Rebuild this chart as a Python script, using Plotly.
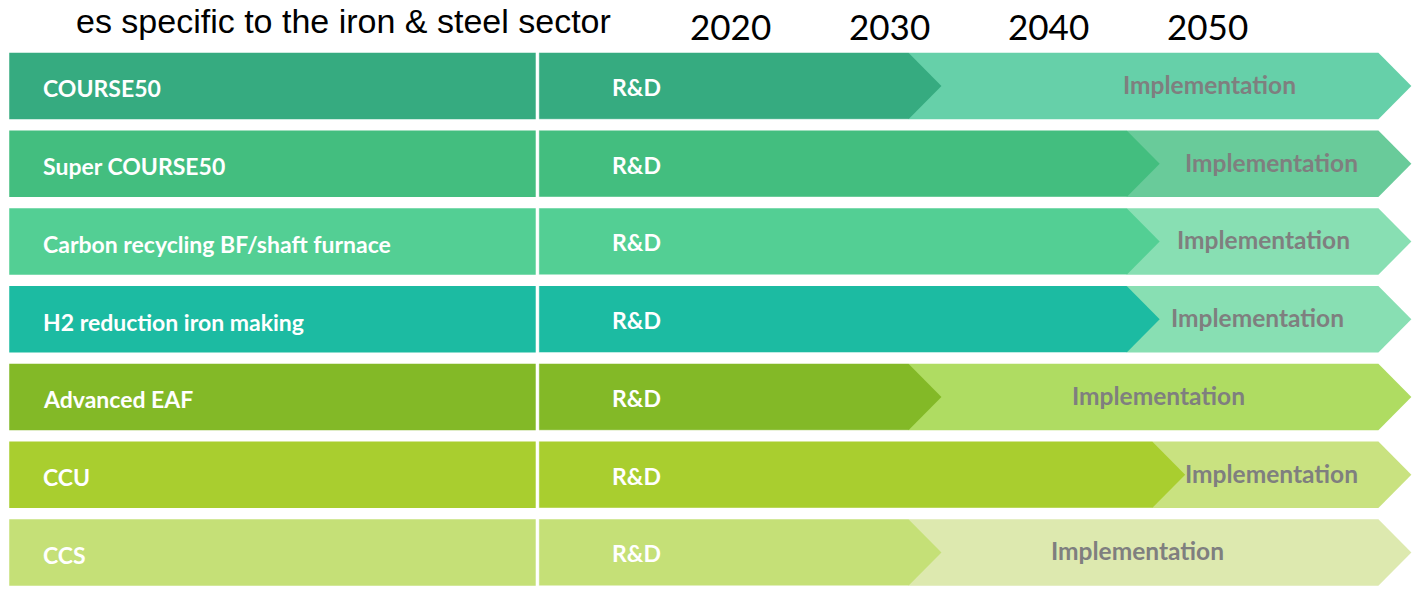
import plotly.graph_objects as go

# ---- data ----
technologies = [
    "COURSE50",
    "Super COURSE50",
    "Carbon recycling BF/shaft furnace",
    "H2 reduction iron making",
    "Advanced EAF",
    "CCU",
    "CCS",
]
rd_start = 2008.0
rd_end = [2031.2, 2044.9, 2044.9, 2044.9, 2031.2, 2046.5, 2031.2]
impl_end = [2060.7, 2060.7, 2060.7, 2060.7, 2060.7, 2060.7, 2060.7]
impl_label_x = [2050.1, 2054.0, 2053.5, 2053.1, 2046.9, 2054.0, 2045.6]
year_ticks = [2020, 2030, 2040, 2050]
year_labels = ["2020", "2030", "2040", "2050"]
phase_names = ["R&D", "Implementation"]
title_text = "es specific to the iron & steel sector"

main_colors = ["#36AB80", "#43BE7F", "#53CF94", "#1CBBA2", "#83B927", "#A9CE2F", "#C5E077"]
impl_colors = ["#66D0A9", "#69CB9A", "#88DFB3", "#88DFB3", "#AFDC62", "#C9E280", "#DDE9AF"]

# ---- layout constants ----
W, H = 1416, 589
X_MIN, X_MAX = 1974.17, 2063.06
LABEL_BOX = (1974.75, 2007.8)
LABEL_TEXT_X = 1976.74
RD_TEXT_X = 2012.45
TIP = 2.07          # arrow-tip depth in years
HALF = 0.428        # half bar height in row units

fig = go.Figure()


def poly(xs, ys, color):
    fig.add_trace(go.Scatter(
        x=xs + [xs[0]], y=ys + [ys[0]], mode="lines", fill="toself",
        fillcolor=color, line=dict(width=0, color=color), hoverinfo="skip",
        showlegend=False))


for i, name in enumerate(technologies):
    t, b = i - HALF, i + HALF
    # label box
    x0, x1 = LABEL_BOX
    poly([x0, x1, x1, x0], [t, t, b, b], main_colors[i])
    # implementation arrow
    s, e = rd_end[i], impl_end[i]
    poly([s, e, e + TIP, e, s], [t, t, i, b, b], impl_colors[i])
    # R&D arrow
    r = rd_end[i]
    poly([rd_start, r, r + TIP, r, rd_start], [t, t, i, b, b], main_colors[i])
    # subtle light edge on R&D box
    fig.add_trace(go.Scatter(x=[rd_start, rd_start, r], y=[t, b, b], mode="lines",
                             line=dict(width=1, color="rgba(255,255,255,0.45)"),
                             hoverinfo="skip", showlegend=False))

    fig.add_annotation(x=LABEL_TEXT_X, y=i + 0.03, xref="x", yref="y", text=name,
                       showarrow=False, xanchor="left", yanchor="middle",
                       font=dict(family="Lato", size=23, color="white", weight="bold"))
    fig.add_annotation(x=RD_TEXT_X, y=i + 0.01, xref="x", yref="y", text=phase_names[0],
                       showarrow=False, xanchor="left", yanchor="middle",
                       font=dict(family="Lato", size=23, color="white", weight="bold"))
    fig.add_annotation(x=impl_label_x[i], y=i - 0.02, xref="x", yref="y", text=phase_names[1],
                       showarrow=False, xanchor="center", yanchor="middle",
                       font=dict(family="Lato", size=24.5, color="#7F7F7F", weight="bold"))

for yv, lbl in zip(year_ticks, year_labels):
    fig.add_annotation(x=yv, y=1 - 26 / H, xref="x", yref="paper", text=lbl,
                       showarrow=False, xanchor="center", yanchor="middle",
                       font=dict(family="Lato", size=35, color="black"))

fig.add_annotation(x=612 / W, y=1 - 21 / H, xref="paper", yref="paper", text=title_text,
                   showarrow=False, xanchor="right", yanchor="middle", borderpad=0,
                   font=dict(family="Liberation Sans", size=34, color="black"))

fig.update_layout(
    width=W, height=H, margin=dict(l=0, r=0, t=0, b=0),
    paper_bgcolor="white", plot_bgcolor="white", showlegend=False,
    xaxis=dict(range=[X_MIN, X_MAX], visible=False, fixedrange=True),
    yaxis=dict(range=[(H - 86) / 77.75, -86 / 77.75], visible=False, fixedrange=True),
)
fig.write_html("out.html")
